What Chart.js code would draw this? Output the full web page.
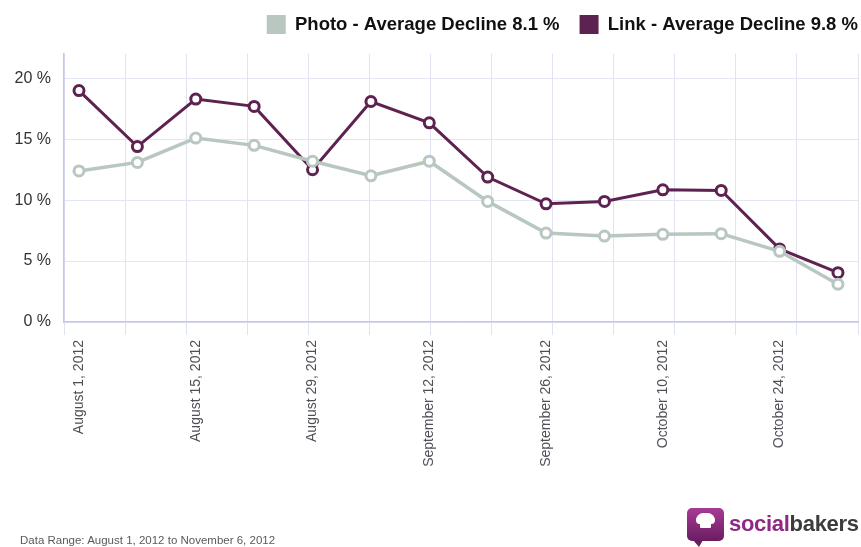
<!DOCTYPE html>
<html>
<head>
<meta charset="utf-8">
<title>Average Decline - Photo vs Link</title>
<script src="https://cdn.jsdelivr.net/npm/chart.js@4.4.1/dist/chart.umd.min.js"></script>
<style>
  html, body { margin: 0; padding: 0; background: #fff; }
  #wrap { position: relative; width: 861px; height: 547px; overflow: hidden; }
  #footer {
    position: absolute; left: 20px; top: 534px;
    font: 11.5px "Liberation Sans", Arial, sans-serif; color: #5a5a5a;
  }
  #logo { position: absolute; left: 687px; top: 505px; height: 38px; display: flex; align-items: center; }
  #logo .icon {
    position: relative; width: 37px; height: 33px; border-radius: 5px; margin-right: 5px;
    background: linear-gradient(#a63a95, #6a1d62);
  }
  #logo .icon:after {
    content: ""; position: absolute; left: 6px; bottom: -6px;
    border-left: 6px solid transparent; border-right: 4px solid transparent; border-top: 7px solid #6a1d62;
  }
  #logo .hat {
    position: absolute; left: 9px; top: 5px; width: 19px; height: 11px;
    background: #fff; border-radius: 8px 8px 4px 4px;
  }
  #logo .hat:after {
    content: ""; position: absolute; left: 4px; top: 9px; width: 11px; height: 6px; background: #fff; border-radius: 1px;
  }
  #logo .txt { font: bold 22px "Liberation Sans", Arial, sans-serif; letter-spacing: -0.3px; color: #3c3c3c; }
  #logo .txt span { color: #8e2a85; }
</style>
</head>
<body>
<div id="wrap">
  <canvas id="declineChart" width="861" height="547"></canvas>
  <div id="footer">Data Range: August 1, 2012 to November 6, 2012</div>
  <div id="logo"><div class="icon"><div class="hat"></div></div><div class="txt"><span>social</span>bakers</div></div>
</div>
<script>
const dates = ["August 1, 2012", "August 8, 2012", "August 15, 2012", "August 22, 2012", "August 29, 2012",
    "September 5, 2012", "September 12, 2012", "September 19, 2012", "September 26, 2012",
    "October 3, 2012", "October 10, 2012", "October 17, 2012", "October 24, 2012", "October 31, 2012"];
const photoValues = [12.4, 13.1, 15.1, 14.5, 13.2, 12.0, 13.2, 9.9, 7.3, 7.05, 7.2, 7.25, 5.8, 3.1];
const linkValues = [19.0, 14.4, 18.3, 17.7, 12.5, 18.1, 16.35, 11.9, 9.7, 9.9, 10.85, 10.8, 6.0, 4.05];
const yTicks = [0, 5, 10, 15, 20];
const seriesNames = ["Photo - Average Decline 8.1 %", "Link - Average Decline 9.8 %"];
const seriesColors = ["#b8c7bf", "#5e2250"];

const fontFamily = '"Liberation Sans", Arial, sans-serif';
Chart.defaults.font.family = fontFamily;

// x range is a bit wider than the data so the points sit between the grid lines like the original
const xMin = -0.257;
const xMax = 13.343;

function toPoints(values) {
    return values.map((v, i) => ({ x: i, y: v }));
}

function makeDataset(name, values, color, width) {
    return {
        label: name,
        data: toPoints(values),
        borderColor: color,
        backgroundColor: color,
        borderWidth: width,
        pointRadius: 5,
        pointHoverRadius: 5,
        pointBorderWidth: 3,
        pointBackgroundColor: "#fff",
        pointBorderColor: color,
        fill: false,
        tension: 0,
        clip: false
    };
}

// push the legend up and flush with the right edge (text ends at x=858)
const legendShift = {
    id: "legendShift",
    afterLayout(chart) {
        const lg = chart.legend;
        const dx = 858 + lg.options.labels.padding - lg.right;
        lg.left += dx;
        lg.right += dx;
        lg.top -= 10;
        lg.bottom -= 10;
    }
};

function noSidePadding(axis) {
    axis.paddingLeft = 0;
    axis.paddingRight = 0;
}

new Chart("declineChart", {
    type: "line",
    data: {
        datasets: [
            makeDataset(seriesNames[0], photoValues, seriesColors[0], 3.5),
            makeDataset(seriesNames[1], linkValues, seriesColors[1], 3)
        ]
    },
    options: {
        responsive: false,
        animation: false,
        devicePixelRatio: 1,
        layout: { autoPadding: false, padding: { top: 5, right: 3, bottom: 0, left: 0 } },
        plugins: {
            tooltip: { enabled: false },
            legend: {
                position: "top",
                align: "end",
                labels: {
                    boxWidth: 19,
                    boxHeight: 19,
                    padding: 20,
                    color: "#111",
                    font: { size: 18.5, weight: "bold" },
                    generateLabels: function(chart) {
                        return Chart.defaults.plugins.legend.labels.generateLabels(chart)
                            .map(item => Object.assign(item, { lineWidth: 0 }));
                    }
                }
            }
        },
        scales: {
            xg: {
                type: "linear",
                position: "bottom",
                weight: 0,
                min: xMin,
                max: xMax,
                grid: { color: "#e0e2f1", lineWidth: 1, drawTicks: true, tickLength: 13 },
                border: { color: "#c3c8e6", width: 1.5 },
                ticks: { display: false },
                afterBuildTicks: function(axis) {
                    const step = (axis.max - axis.min) / 13;
                    axis.ticks = Array.from({ length: 14 }, (_, k) => ({ value: axis.min + k * step }));
                },
                afterFit: function(axis) {
                    axis.height = 13;
                    noSidePadding(axis);
                }
            },
            x: {
                type: "linear",
                position: "bottom",
                weight: 1,
                min: xMin,
                max: xMax,
                grid: { display: false },
                border: { display: false },
                ticks: {
                    autoSkip: false,
                    minRotation: 90,
                    maxRotation: 90,
                    padding: -3,
                    color: "#4f4f58",
                    font: { size: 14 },
                    callback: function(value) { return dates[value]; }
                },
                afterBuildTicks: function(axis) {
                    axis.ticks = dates.map((d, i) => ({ value: i })).filter(t => t.value % 2 === 0);
                },
                afterFit: function(axis) {
                    axis.height = 212;
                    noSidePadding(axis);
                }
            },
            y: {
                min: 0,
                max: 22,
                grid: { color: "#e3e5f2", drawTicks: false },
                border: { color: "#c3c8e6", width: 1.5 },
                ticks: {
                    padding: 13,
                    color: "#333",
                    font: { size: 16 },
                    callback: function(value) { return value + " %"; }
                },
                afterBuildTicks: function(axis) {
                    axis.ticks = yTicks.map(v => ({ value: v }));
                },
                afterFit: function(axis) { axis.width = 64; }
            }
        }
    },
    plugins: [legendShift]
});
</script>
</body>
</html>
